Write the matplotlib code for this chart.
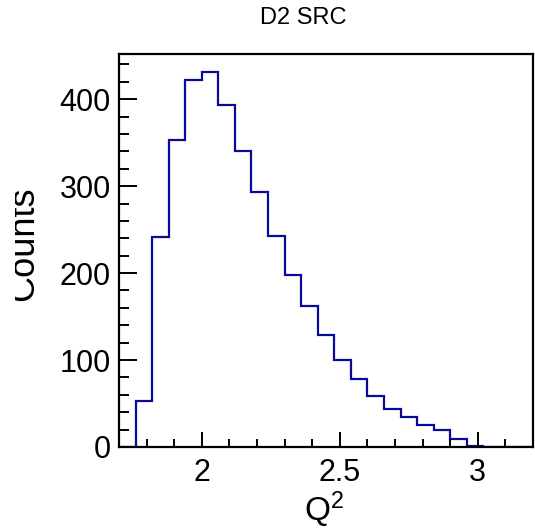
import numpy as np
import matplotlib
matplotlib.use('Agg')
from matplotlib import pyplot as plt
from matplotlib.ticker import MultipleLocator
from matplotlib.transforms import Bbox, TransformedBbox

# histogram of Q^2, 25 bins between 1.7 and 3.2
bin_edges = np.linspace(1.7, 3.2, 26)
counts = [0, 53, 242, 353, 422, 431, 393, 340, 293, 243, 198, 162, 129,
          100, 78, 59, 44, 34, 25, 19, 9, 1, 0, 0, 0]

title = 'D2 SRC'
x_title = 'Q$^{2}$'
y_title = 'Counts'

plt.rcParams['font.family'] = ['Liberation Sans', 'DejaVu Sans']
plt.rcParams['mathtext.fontset'] = 'custom'
plt.rcParams['mathtext.rm'] = 'Liberation Sans'
plt.rcParams['mathtext.it'] = 'Liberation Sans'


def data_plot():
    fig = plt.figure(figsize=(5.35, 5.32), dpi=100)
    ax = fig.add_axes([119/535, 85/532, 414/535, 393/532])

    ax.stairs(counts, bin_edges, baseline=0, color='#0a0a9a', lw=1.6)

    ax.set_xlim(1.7, 3.2)
    ax.set_ylim(0, 452)
    ax.xaxis.set_major_locator(MultipleLocator(0.5))
    ax.xaxis.set_minor_locator(MultipleLocator(0.1))
    ax.yaxis.set_major_locator(MultipleLocator(100))
    ax.yaxis.set_minor_locator(MultipleLocator(20))
    ax.set_xticks([2, 2.5, 3])
    ax.set_xticklabels(['2', '2.5', '3'])

    for s in ax.spines.values():
        s.set_linewidth(1.6)
    ax.tick_params(axis='both', which='both', direction='in', width=1.4,
                   labelsize=22, top=False, right=False)
    ax.tick_params(axis='x', which='major', length=11, pad=8)
    ax.tick_params(axis='x', which='minor', length=6)
    ax.tick_params(axis='y', which='major', length=13, pad=6)
    ax.tick_params(axis='y', which='minor', length=7)

    fig.text(303/535, 1 - 18/532, title, ha='center', va='center', fontsize=17)
    fig.text(324/535, 1 - 521/532, x_title, ha='center', va='baseline',
             fontsize=24)
    lab = fig.text(33/535, 1 - 244/532, y_title, rotation=90,
                   rotation_mode='anchor', ha='center', va='baseline',
                   fontsize=26)
    clip = TransformedBbox(Bbox([[15/535, 0], [1, 1]]), fig.transFigure)
    lab.set_clip_box(clip)
    lab.set_clip_on(True)

    fig.savefig('out.png', dpi=100)
    return ax


if __name__ == '__main__':
    data_plot()
